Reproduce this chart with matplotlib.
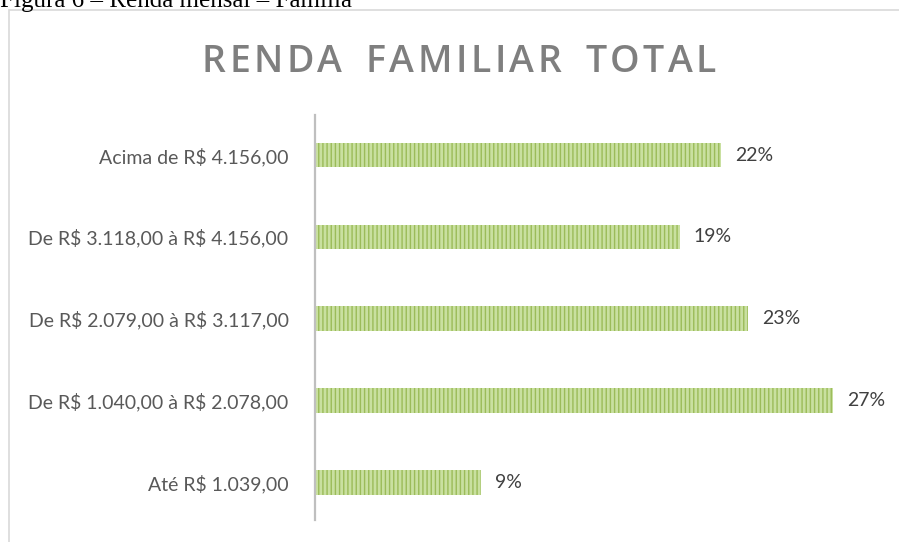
import matplotlib.pyplot as plt
from matplotlib.patches import Rectangle

plt.rcParams['hatch.linewidth'] = 1.0

categories = ["Até R\\$ 1.039,00",
              "De R\\$ 1.040,00 à R\\$ 2.078,00",
              "De R\\$ 2.079,00 à R\\$ 3.117,00",
              "De R\\$ 3.118,00 à R\\$ 4.156,00",
              "Acima de R\\$ 4.156,00"]
values = [8.8, 27.4, 22.9, 19.3, 21.5]
labels = ["9%", "27%", "23%", "19%", "22%"]
title = "RENDA FAMILIAR TOTAL"

fig = plt.figure(figsize=(8.99, 5.42), dpi=100)
W, H = 899, 542

# caption cut off at the top of the image
fig.text(0.0, 1 - 7 / H, "Figura 6 – Renda mensal – Família", family="Liberation Serif",
         fontsize=18, color="black", ha="left", va="baseline")

# chart frame
fig.patches.append(Rectangle((9 / W, -0.05), 1.0, 1 - 10 / H + 0.05, transform=fig.transFigure,
                             fill=False, edgecolor="#d9d9d9", linewidth=1.2))

# title with letter spacing: place each char
renderer = fig.canvas.get_renderer()
tstyle = dict(family="Open Sans", fontsize=27, color="#7f7f7f", va="baseline",
              ha="left", fontweight="semibold")
spacing = 3.5
chars = []
for c in title:
    t = fig.text(0, 0, c if c != " " else "n", **tstyle)
    w = t.get_window_extent(renderer).width
    if c == " ":
        t.remove()
        w = w * 0.7
        t = None
    chars.append((t, w))
total = sum(w for _, w in chars) + spacing * (len(chars) - 1)
x = 459 - total / 2
for t, w in chars:
    if t is not None:
        t.set_position((x / W, 1 - 72 / H))
    x += w + spacing

ax = fig.add_axes([315 / W, 22 / H, 567 / W, 405 / H])
ax.barh(range(len(values)), values, height=0.3, color="#c9e0a0",
        edgecolor="#9bbb59", hatch="||||", linewidth=0)
for i, (v, lab) in enumerate(zip(values, labels)):
    ax.text(v + 0.75, i, lab, va="center", ha="left", fontsize=14,
            family="Lato", color="#404040")

ax.set_xlim(0, 30)
ax.set_ylim(-0.46, 4.49)
ax.set_yticks(range(len(categories)))
ax.set_yticklabels(categories, family="Lato", fontsize=14, color="#595959")
ax.tick_params(axis="y", length=0, pad=19)
ax.set_xticks([])
for s in ["top", "right", "bottom"]:
    ax.spines[s].set_visible(False)
ax.spines["left"].set_color("#bfbfbf")
ax.spines["left"].set_linewidth(1.6)

fig.savefig("out.png", dpi=100)
